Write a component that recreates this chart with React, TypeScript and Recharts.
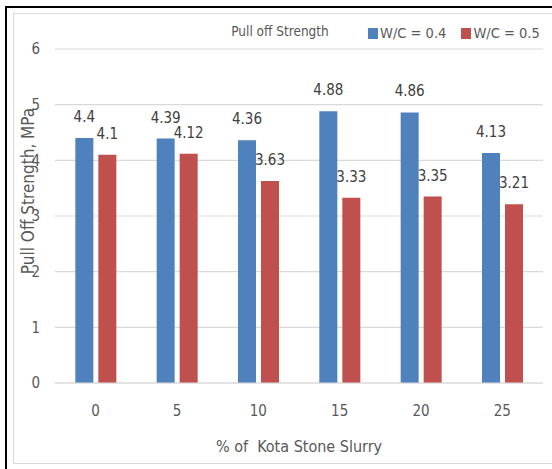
import React from 'react';
import { BarChart, Bar, XAxis, YAxis, CartesianGrid, LabelList, Legend, Label } from 'recharts';

const categories = ['0', '5', '10', '15', '20', '25'];
const wc04 = [4.4, 4.39, 4.36, 4.88, 4.86, 4.13];
const wc05 = [4.1, 4.12, 3.63, 3.33, 3.35, 3.21];
const yTicks = [0, 1, 2, 3, 4, 5, 6];
const seriesNames = ['W/C = 0.4', 'W/C = 0.5'];
const seriesColors = ['#4F81BD', '#C0504D'];

const data = categories.map((c, i) => ({ cat: c, a: wc04[i], b: wc05[i] }));

const FONT = "'DejaVu Sans Condensed', 'Liberation Sans', sans-serif";

const LegendContent = () => (
  <div style={{ display: 'flex', alignItems: 'center', fontFamily: FONT, fontSize: 14.5, color: '#595959', whiteSpace: 'nowrap', lineHeight: '18px' }}>
    {seriesNames.map((n, i) => (
      <div key={n} style={{ display: 'flex', alignItems: 'center', marginRight: i === 0 ? 15 : 0 }}>
        <span style={{ display: 'inline-block', width: 10, height: 11, background: seriesColors[i], marginRight: 2 }} />
        <span>{n}</span>
      </div>
    ))}
  </div>
);

export default function App() {
  return (
    <div style={{ position: 'absolute', left: 0, top: 0, width: 552, height: 469, overflow: 'hidden', background: '#fff' }}>
      <div style={{ position: 'absolute', left: 5, top: 6, width: 560, height: 480, border: '2.5px solid #000', boxSizing: 'border-box' }} />
      <div style={{ position: 'absolute', left: 13, top: 13, width: 545, height: 451, border: '1.5px solid #D9D9D9', boxSizing: 'border-box' }} />
      <div style={{ position: 'absolute', left: 180, top: 21, width: 200, textAlign: 'center', fontFamily: FONT, fontSize: 13.5, color: '#595959', lineHeight: '20px' }}>
        Pull off Strength
      </div>
      <div style={{ position: 'absolute', left: 0, top: 0 }}>
        <BarChart width={552} height={469} data={data} margin={{ top: 49, right: 9, bottom: 11, left: 15 }} barCategoryGap="25%" barGap={5}>
          <CartesianGrid vertical={false} stroke="#D9D9D9" strokeWidth={1.2} />
          <XAxis
            dataKey="cat"
            height={75}
            tickLine={false}
            tickSize={6}
            tickMargin={16}
            axisLine={{ stroke: '#D9D9D9', strokeWidth: 1.2 }}
            tick={{ fill: '#595959', fontSize: 15, fontFamily: FONT }}
          >
            <Label value={'% of\u00A0 Kota Stone Slurry'} position="insideBottom" offset={6} style={{ fill: '#595959', fontSize: 16, fontFamily: FONT }} />
          </XAxis>
          <YAxis
            width={40}
            domain={[0, 6]}
            ticks={yTicks}
            axisLine={false}
            tickLine={false}
            tickSize={6}
            tickMargin={9}
            tick={{ fill: '#595959', fontSize: 15, fontFamily: FONT }}
          >
            <Label
              content={() => (
                <text x={28} y={191} transform="rotate(-90 28 191)" textAnchor="middle" dominantBaseline="central" fill="#595959" fontSize={17} fontFamily={FONT}>
                  Pull Off Strength, MPa
                </text>
              )}
            />
          </YAxis>
          <Legend
            layout="horizontal"
            verticalAlign="middle"
            align="center"
            content={<LegendContent />}
            wrapperStyle={{ position: 'absolute', left: 368, top: 24, width: 'auto' }}
          />
          <Bar dataKey="a" name={seriesNames[0]} fill={seriesColors[0]} isAnimationActive={false}>
            <LabelList dataKey="a" position="top" offset={16} style={{ fill: '#404040', fontSize: 15, fontFamily: FONT }} />
          </Bar>
          <Bar dataKey="b" name={seriesNames[1]} fill={seriesColors[1]} isAnimationActive={false}>
            <LabelList dataKey="b" position="top" offset={16} style={{ fill: '#404040', fontSize: 15, fontFamily: FONT }} />
          </Bar>
        </BarChart>
      </div>
    </div>
  );
}
